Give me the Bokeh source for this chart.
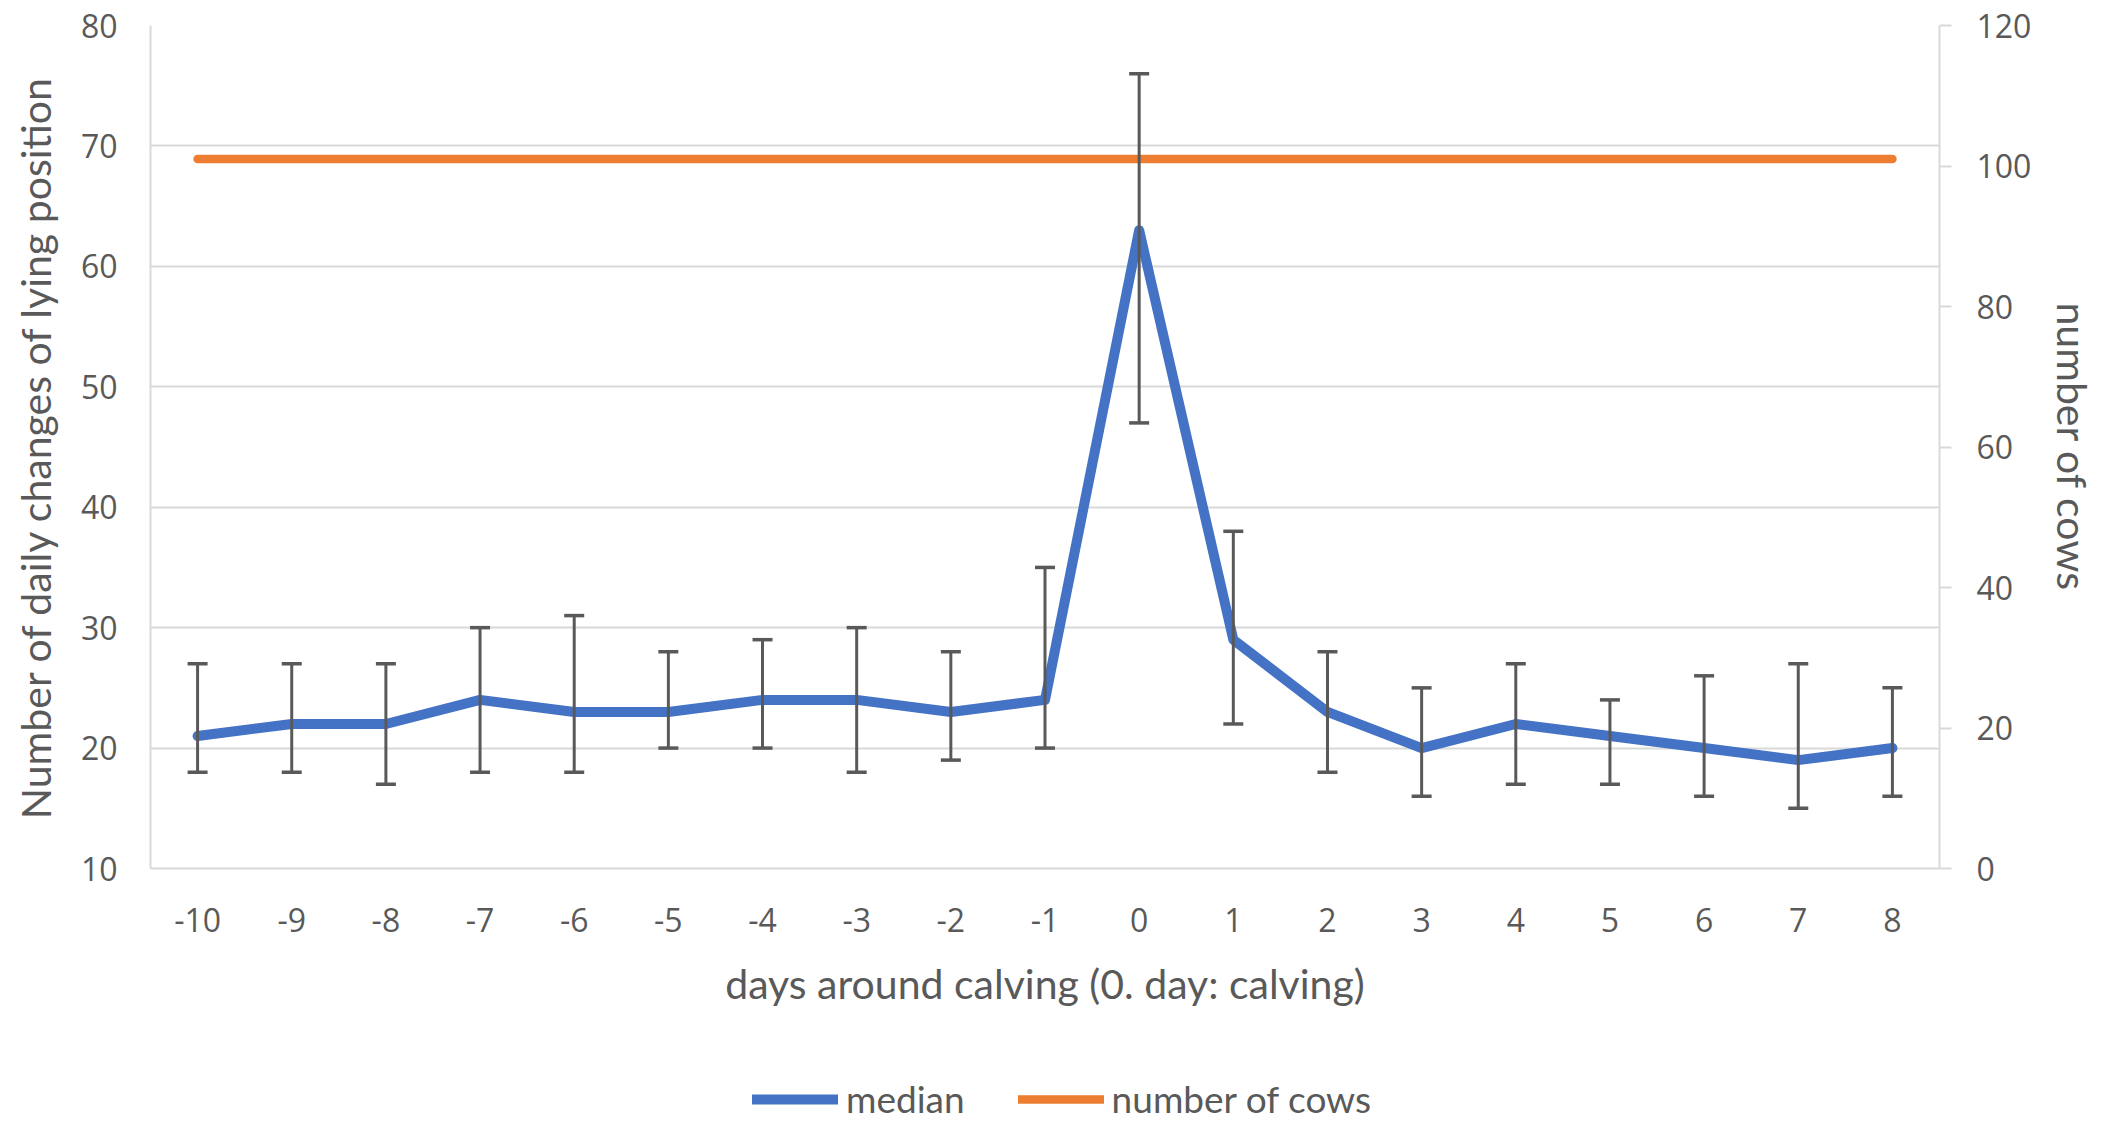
from bokeh.plotting import figure
from bokeh.layouts import column
from bokeh.models import (Range1d, FactorRange, LinearAxis, FixedTicker, ColumnDataSource,
                          Whisker, TeeHead, Legend, LegendItem)
from bokeh.embed import file_html
from bokeh.resources import INLINE

days = ["-10", "-9", "-8", "-7", "-6", "-5", "-4", "-3", "-2", "-1",
        "0", "1", "2", "3", "4", "5", "6", "7", "8"]
median = [21, 22, 22, 24, 23, 23, 24, 24, 23, 24, 63, 29, 23, 20, 22, 21, 20, 19, 20]
err_upper = [27, 27, 27, 30, 31, 28, 29, 30, 28, 35, 76, 38, 28, 25, 27, 24, 26, 27, 25]
err_lower = [18, 18, 17, 18, 18, 20, 20, 18, 19, 20, 47, 22, 18, 16, 17, 17, 16, 15, 16]
cows = [101, 101, 101, 101, 101, 101, 101, 101, 101, 101,
        101, 101, 101, 101, 101, 101, 101, 101, 101]
left_ticks = [10, 20, 30, 40, 50, 60, 70, 80]
right_ticks = [0, 20, 40, 60, 80, 100, 120]
series_names = ["median", "number of cows"]
series_colors = ["#4472C4", "#ED7D31"]

TXT = "#595959"
GRID = "#D9D9D9"
TICKFONT = "Open Sans"
TITLEFONT = "Lato"

src = ColumnDataSource(dict(day=days, median=median, upper=err_upper,
                            lower=err_lower, cows=cows))

p = figure(width=2107, height=1065, output_backend="svg", toolbar_location=None,
           x_range=FactorRange(factors=days, range_padding=0),
           y_range=Range1d(10, 80),
           min_border_left=150, min_border_right=168,
           min_border_top=25, min_border_bottom=197)
p.extra_y_ranges = {"cows": Range1d(0, 120)}
p.outline_line_color = None
p.background_fill_color = "white"
p.border_fill_color = "white"

# grid
p.xgrid.grid_line_color = None
p.ygrid.grid_line_color = GRID
p.ygrid.grid_line_width = 2
p.ygrid.ticker = FixedTicker(ticks=left_ticks)

# left axis
ya = p.yaxis[0]
ya.ticker = FixedTicker(ticks=left_ticks)
ya.axis_line_color = GRID
ya.axis_line_width = 2
ya.major_tick_line_color = None
ya.minor_tick_line_color = None
ya.major_tick_out = 0
ya.major_label_standoff = 33
ya.major_label_text_font = TICKFONT
ya.major_label_text_font_size = "32px"
ya.major_label_text_color = TXT
ya.axis_label = "Number of daily changes of lying position"
ya.axis_label_text_font = TITLEFONT
ya.axis_label_text_font_style = "normal"
ya.axis_label_text_font_size = "41px"
ya.axis_label_text_color = TXT
ya.axis_label_standoff = 18

# bottom axis
xa = p.xaxis[0]
xa.axis_line_color = GRID
xa.axis_line_width = 2
xa.major_tick_line_color = None
xa.minor_tick_line_color = None
xa.major_tick_out = 0
xa.major_label_standoff = 39
xa.major_label_text_font = TICKFONT
xa.major_label_text_font_size = "32px"
xa.major_label_text_color = TXT
xa.axis_label = "days around calving (0. day: calving)"
xa.axis_label_text_font = TITLEFONT
xa.axis_label_text_font_style = "normal"
xa.axis_label_text_font_size = "41px"
xa.axis_label_text_color = TXT
xa.axis_label_standoff = 24

# right axis
ra = LinearAxis(y_range_name="cows", ticker=FixedTicker(ticks=right_ticks))
ra.axis_line_color = GRID
ra.axis_line_width = 2
ra.major_tick_line_color = GRID
ra.major_tick_line_width = 2
ra.major_tick_out = 12
ra.major_tick_in = 0
ra.minor_tick_line_color = None
ra.major_label_standoff = 25
ra.major_label_text_font = TICKFONT
ra.major_label_text_font_size = "32px"
ra.major_label_text_color = TXT
ra.axis_label = "number of cows"
ra.axis_label_text_font = TITLEFONT
ra.axis_label_text_font_style = "normal"
ra.axis_label_text_font_size = "41px"
ra.axis_label_text_color = TXT
ra.axis_label_standoff = 14
p.add_layout(ra, "right")

# series
r_med = p.line("day", "median", source=src, line_color=series_colors[0], line_width=10,
               line_join="round", line_cap="round")
r_cows = p.line("day", "cows", source=src, y_range_name="cows", line_color=series_colors[1],
                line_width=8.5, line_cap="round")

wk = Whisker(source=src, base="day", upper="upper", lower="lower", dimension="height",
             line_color="#595959", line_width=3,
             upper_head=TeeHead(size=20, line_color="#595959", line_width=3.5),
             lower_head=TeeHead(size=20, line_color="#595959", line_width=3.5),
             level="annotation")
p.add_layout(wk)

# legend strip below the chart (its series lie outside its visible range)
pl = figure(width=2107, height=56, output_backend="svg", toolbar_location=None,
            x_range=FactorRange(factors=days, range_padding=0),
            y_range=Range1d(500, 600),
            x_axis_location=None, y_axis_location=None,
            min_border_left=0, min_border_right=0, min_border_top=0, min_border_bottom=0)
pl.outline_line_color = None
pl.xgrid.grid_line_color = None
pl.ygrid.grid_line_color = None
pl.background_fill_color = "white"
pl.border_fill_color = "white"
lg_med = pl.line("day", "median", source=src, line_color=series_colors[0],
                 line_width=10, line_cap="round")
lg_cows = pl.line("day", "cows", source=src, line_color=series_colors[1],
                  line_width=8.5, line_cap="round")

legend = Legend(items=[LegendItem(label=series_names[0], renderers=[lg_med]),
                       LegendItem(label=series_names[1], renderers=[lg_cows])],
                location=(602, 0), orientation="horizontal",
                glyph_width=86, glyph_height=20, label_standoff=8, spacing=53,
                padding=0, margin=0, border_line_color=None,
                background_fill_alpha=0,
                label_text_font=TITLEFONT, label_text_font_size="37px",
                label_text_color=TXT)
pl.add_layout(legend, "center")

layout = column(p, pl, spacing=0)
open("out.html", "w").write(file_html(layout, INLINE))
